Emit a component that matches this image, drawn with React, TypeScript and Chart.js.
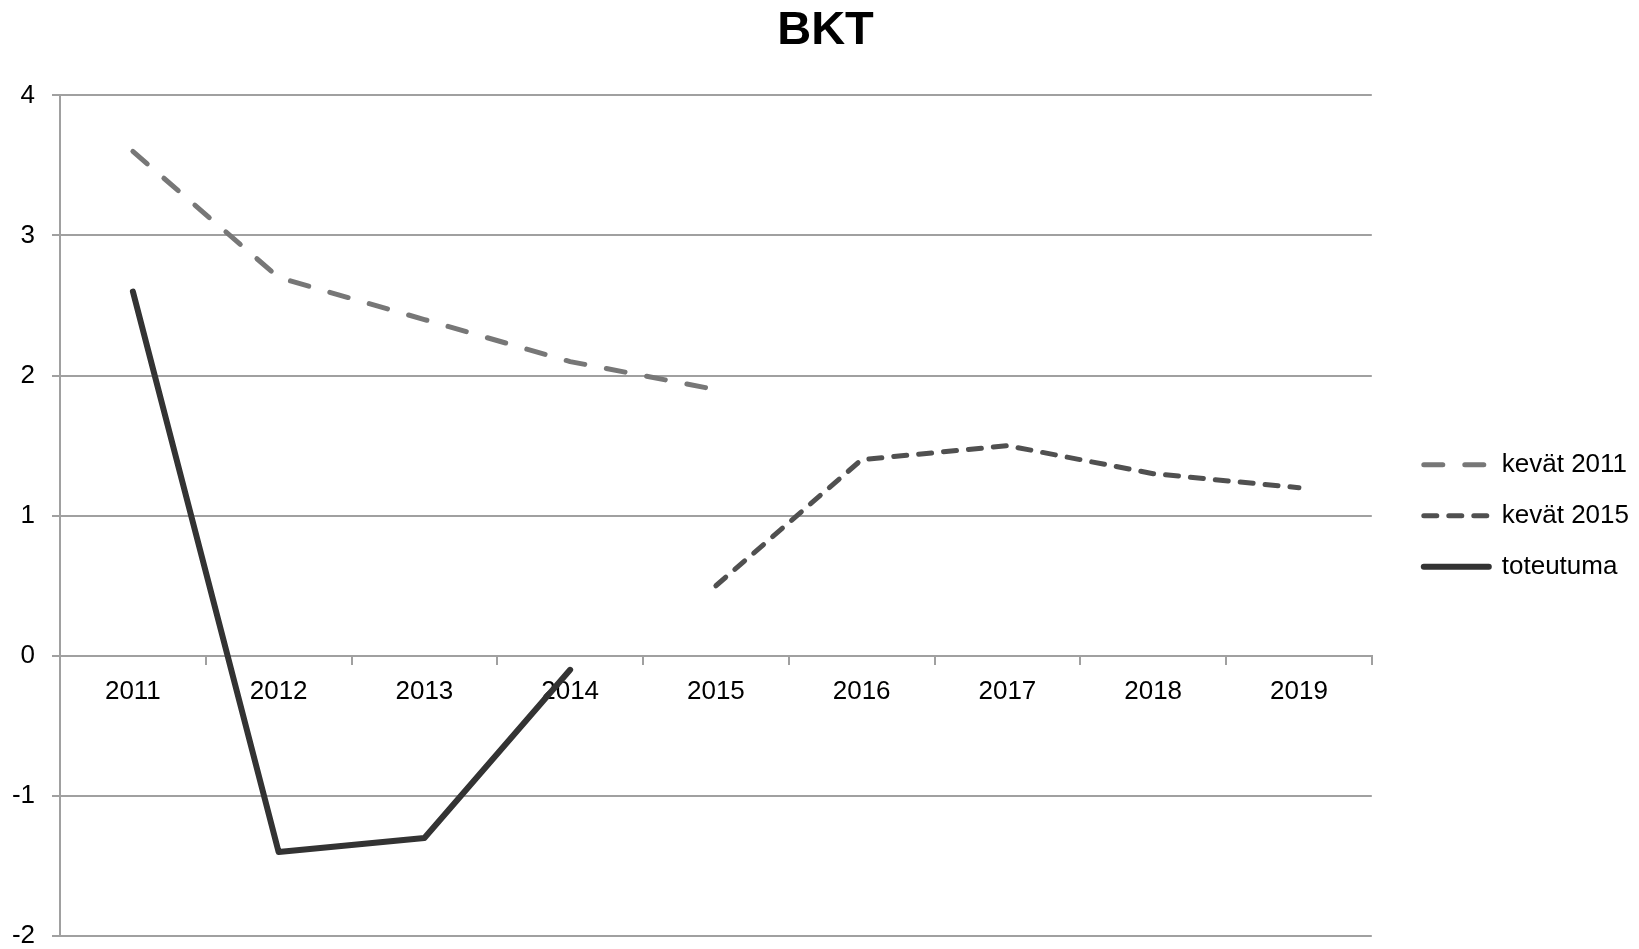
import React, { useEffect, useRef } from "react";
import { Chart, registerables } from "chart.js";

Chart.register(...registerables);

const categories = ["2011", "2012", "2013", "2014", "2015", "2016", "2017", "2018", "2019"];
const kevat2011 = [3.6, 2.7, 2.4, 2.1, 1.9, null, null, null, null];
const kevat2015 = [null, null, null, null, 0.5, 1.4, 1.5, 1.3, 1.2];
const toteutuma = [2.6, -1.4, -1.3, -0.1, null, null, null, null, null];
const seriesNames = ["kevät 2011", "kevät 2015", "toteutuma"];
const yMin = -2;
const yMax = 4;
const yStep = 1;
const titleText = "BKT";

const FONT = "'Liberation Sans', Arial, Helvetica, sans-serif";
const GRID = "#a0a0a0";

export default function App() {
  const ref = useRef<HTMLCanvasElement | null>(null);

  useEffect(() => {
    document.body.style.margin = "0";
    const canvas = ref.current;
    if (!canvas) return;
    Chart.defaults.font.family = FONT;
    const baseGen = (Chart.defaults as any).plugins.legend.labels.generateLabels;
    const chart = new Chart(canvas, {
      type: "line",
      data: {
        labels: categories,
        datasets: [
          {
            label: seriesNames[0],
            data: kevat2011,
            borderColor: "#777777",
            backgroundColor: "#777777",
            borderWidth: 5,
            borderDash: [19, 22],
            borderCapStyle: "round",
            borderJoinStyle: "round",
            pointRadius: 0,
            tension: 0,
            spanGaps: false,
          },
          {
            label: seriesNames[1],
            data: kevat2015,
            borderColor: "#505050",
            backgroundColor: "#505050",
            borderWidth: 5,
            borderDash: [13, 12],
            borderCapStyle: "round",
            borderJoinStyle: "round",
            pointRadius: 0,
            tension: 0,
            spanGaps: false,
          },
          {
            label: seriesNames[2],
            data: toteutuma,
            borderColor: "#333333",
            backgroundColor: "#333333",
            borderWidth: 6,
            borderCapStyle: "round",
            borderJoinStyle: "round",
            pointRadius: 0,
            tension: 0,
            spanGaps: false,
          },
        ],
      },
      options: {
        animation: false,
        responsive: false,
        maintainAspectRatio: false,
        layout: { padding: { left: 12, right: 0, top: 0, bottom: 0 } },
        plugins: {
          title: {
            display: true,
            text: titleText,
            color: "#000",
            font: { size: 47, weight: "bold", family: FONT },
            padding: { top: 3, bottom: 36 },
          },
          legend: {
            position: "right",
            align: "center",
            fullSize: false,
            labels: {
              usePointStyle: true,
              pointStyle: "line",
              pointStyleWidth: 65,
              boxHeight: 26,
              color: "#000",
              font: { size: 26, family: FONT },
              padding: 25,
              generateLabels: (ch: any) => {
                const items = baseGen(ch);
                return items.map((it: any) => {
                  const ds: any = ch.data.datasets[it.datasetIndex];
                  return {
                    ...it,
                    pointStyle: "line",
                    lineDash: ds.borderDash || [],
                    lineCap: ds.borderCapStyle || "butt",
                    lineWidth: ds.borderWidth,
                    strokeStyle: ds.borderColor,
                    fillStyle: ds.borderColor,
                  };
                });
              },
            },
          },
          tooltip: { enabled: false },
        },
        scales: {
          x: {
            type: "category",
            position: { y: 0 },
            offset: true,
            grid: {
              display: true,
              drawOnChartArea: false,
              drawTicks: true,
              tickLength: 8,
              color: GRID,
              lineWidth: 2,
              offset: true,
            },
            border: { display: true, color: GRID, width: 2 },
            ticks: {
              color: "#000",
              font: { size: 26, family: FONT },
              padding: 12,
              maxRotation: 0,
              autoSkip: false,
            },
            afterFit: (s: any) => {
              s.height = 0;
              s.paddingTop = 0;
              s.paddingBottom = 0;
            },
          },
          y: {
            type: "linear",
            position: "left",
            min: yMin,
            max: yMax,
            grid: {
              color: GRID,
              lineWidth: 2,
              drawTicks: true,
              tickLength: 8,
            },
            border: { display: true, color: GRID, width: 2 },
            ticks: {
              stepSize: yStep,
              color: "#000",
              font: { size: 26, family: FONT },
              padding: 17,
            },
            afterFit: (s: any) => {
              s.width = 48;
              s.paddingTop = 14;
              s.paddingBottom = 13;
            },
          },
          spacer: {
            type: "linear",
            position: "right",
            display: true,
            grid: { display: false, drawTicks: false },
            border: { display: false },
            ticks: { display: false },
            afterFit: (s: any) => {
              s.width = 27;
              s.paddingTop = 0;
              s.paddingBottom = 0;
            },
          },
        },
      },
    } as any);
    return () => chart.destroy();
  }, []);

  return (
    <div style={{ width: 1639, height: 949, background: "#fff" }}>
      <canvas ref={ref} width={1639} height={949} style={{ width: 1639, height: 949, display: "block" }} />
    </div>
  );
}
